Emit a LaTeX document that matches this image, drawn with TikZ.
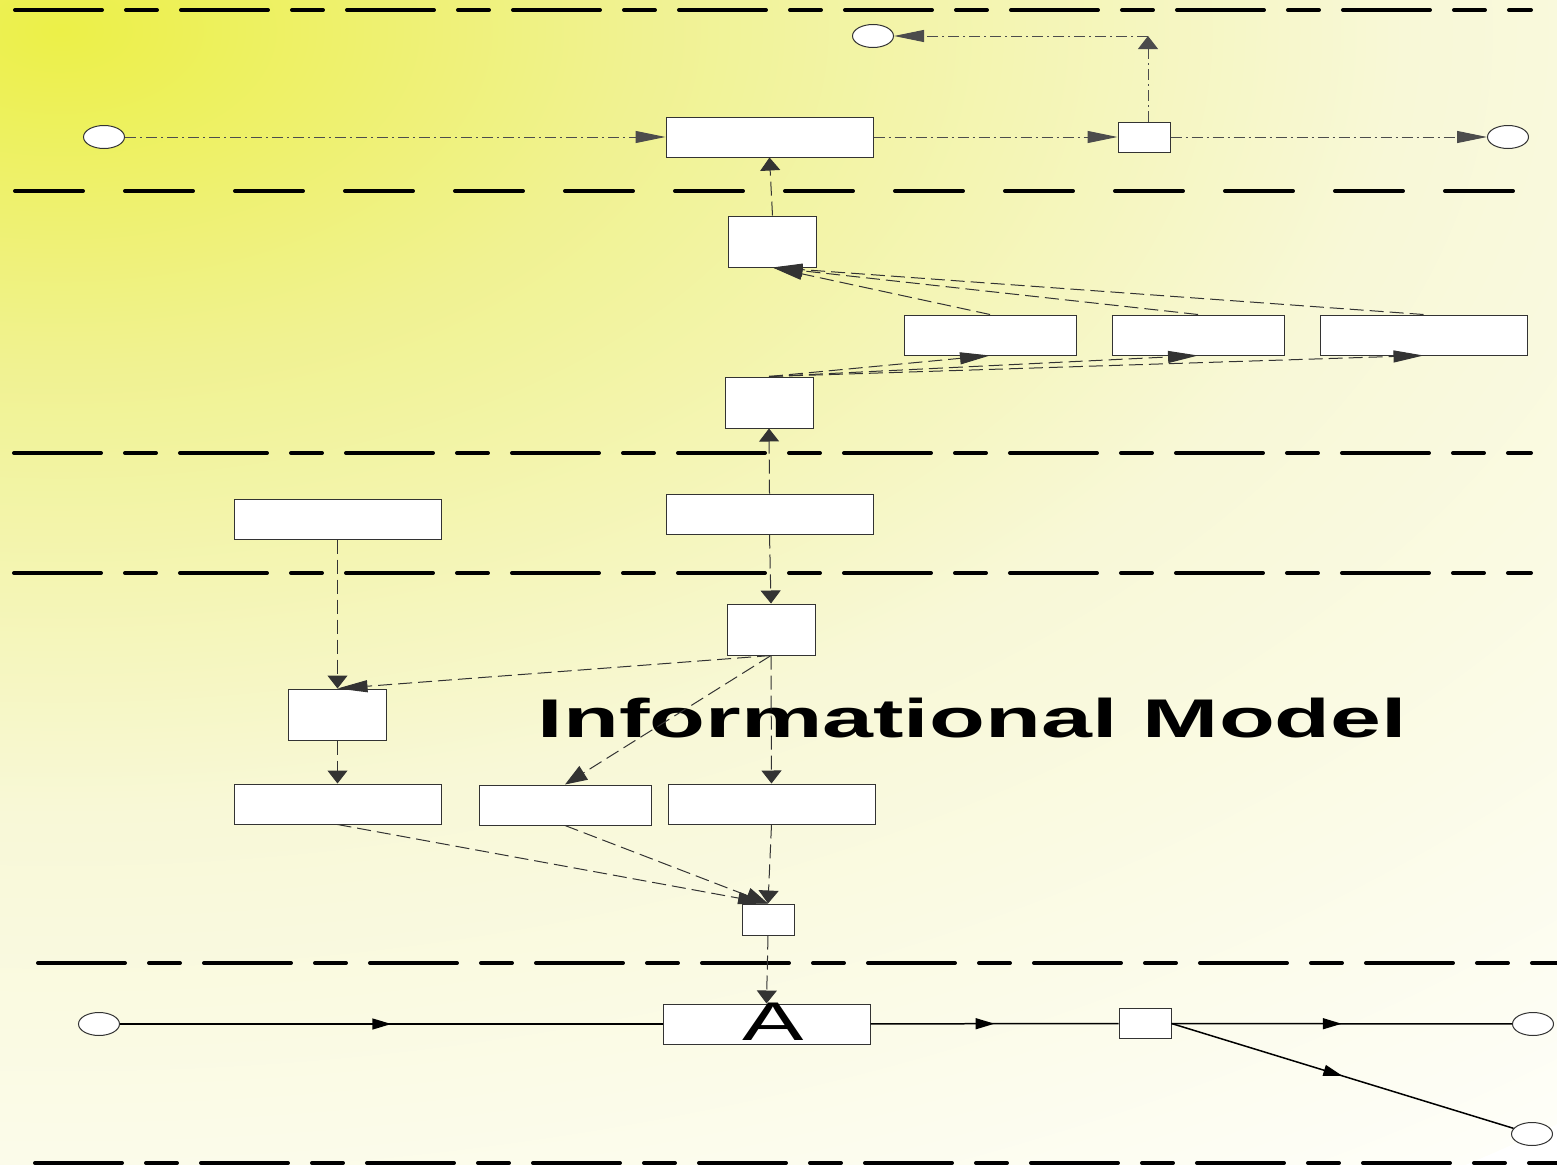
\documentclass[tikz,border=0pt]{standalone}
\usepackage{fontspec}
\setmainfont{Liberation Sans}
\usepackage{graphicx}
\usepackage{tikz}
\usetikzlibrary{arrows.meta, positioning, shapes.geometric, decorations.markings}
\definecolor{glowA}{RGB}{236,240,72}
\definecolor{glowB}{RGB}{240,242,145}
\definecolor{glowC}{RGB}{248,248,215}
\definecolor{glowD}{RGB}{254,254,248}
\pgfdeclareradialshading{laneglow}{\pgfpoint{0bp}{0bp}}{color(0bp)=(glowA); color(6bp)=(glowB); color(14bp)=(glowC); color(25bp)=(glowD); color(50bp)=(glowD)}
\newcommand{\bigfont}{\fontsize{15.5}{18}\selectfont}
\tikzset{
  lane/.style={line width=0.4mm, line cap=round, dash pattern=on 8.7mm off 2.4mm on 3.1mm off 2.4mm},
  lanesplit/.style={line width=0.4mm, line cap=round, dash pattern=on 6.8mm off 4.2mm},
  task/.style={draw=black!80, fill=white, line width=0.1mm, inner sep=0pt, minimum width=20.7mm, minimum height=4mm},
  gate/.style={task, minimum width=5.2mm, minimum height=3mm},
  unit/.style={task, minimum width=8.8mm, minimum height=5.1mm},
  event/.style={draw=black!80, fill=white, ellipse, line width=0.1mm, inner sep=0pt, minimum width=4.1mm, minimum height=2.3mm},
  msg/.style={draw=black!70, line width=0.1mm, dash pattern=on 1.1mm off 0.4mm on 0.2mm off 0.4mm},
  link/.style={draw=black!80, line width=0.1mm, dash pattern=on 1.4mm off 0.6mm},
  seq/.style={draw=black, line width=0.15mm, postaction={decorate},
    decoration={markings, mark=at position 0.5 with {\arrow{Triangle[length=1.9mm, width=1.1mm]}}}},
  harrow/.style={-{Triangle[length=3mm, width=1.2mm]}},
  varrow/.style={-{Triangle[length=1.3mm, width=2mm]}},
  darrow/.style={-{Triangle[length=2.2mm, width=1.6mm]}}
}

\begin{document}
\begin{tikzpicture}[x=0.1mm, y=-0.1mm]
    % background
    \useasboundingbox (0,0) rectangle (1557,1165);
    \begin{scope}
        \clip (0,0) rectangle (1557,1165);
        \shade[shading=laneglow] (60,30) ellipse [x radius=240mm, y radius=140mm];
    \end{scope}

    % lane separators
    \draw[lane] (15,10) -- (1531,10);
    \draw[lanesplit] (15,191) -- (1518,191);
    \draw[lane] (14,453) -- (1531,453);
    \draw[lane] (14,573) -- (1531,573);
    \draw[lane] (38,963) -- (1560,963);
    \draw[lane] (35,1163) -- (1560,1163);

    % top lane
    \node[event] (start) at (104,137) {};
    \node[task] (notify) at (769.5,137) {};
    \node[gate, right=24.4mm of notify] (split) {};
    \node[event] (done) at (1508,137) {};
    \node[event] (reply) at (873,36) {};
    \coordinate (turn) at (1148,36);

    % second lane
    \node[unit] (collect) at (772.5,241.5) {};
    \node[task, minimum width=17.2mm] (srcA) at (990,335) {};
    \node[task, minimum width=17.2mm, right=3.5mm of srcA] (srcB) {};
    \node[task, right=3.5mm of srcB] (srcC) {};
    \node[unit] (query) at (769,402.5) {};

    % third lane
    \node[task] (rule) at (337.5,519) {};
    \node[task] (request) at (769.5,514) {};

    % fourth lane
    \node[unit] (check) at (771,629.5) {};
    \node[unit, minimum width=9.8mm] (merge) at (337.5,714.5) {};
    \node[task] (outA) at (337.5,804) {};
    \node[task, minimum width=17.2mm] (outB) at (565,805) {};
    \node[task] (outC) at (771.5,804) {};
    \node[gate, minimum height=3.1mm] (join) at (768,919.5) {};
    \node[anchor=base, inner sep=0pt] (title) at (972.5,737)
        {\scalebox{1.68}[1]{\bigfont\bfseries Informational Model}};

    % bottom lane
    \node[task] (act) at (766.5,1024) {\hspace*{1.4mm}\raisebox{0pt}[3.2mm][0pt]{\scalebox{1.69}[1]{\bigfont A}}};
    \node[gate] (fork) at (1145,1023.5) {};
    \node[event] (in) at (99,1024) {};
    \node[event] (outTop) at (1533,1024) {};
    \node[event] (outLow) at (1532,1134) {};

    % messages
    \draw[msg, harrow] (start) -- (notify);
    \draw[msg, harrow] (notify) -- (split);
    \draw[msg, harrow] (split) -- (done);
    \draw[msg, varrow] (split.north -| turn) -- (turn);
    \draw[msg, harrow] (turn) -- (reply);

    % links
    \draw[link, varrow] (collect.north) -- (notify.south);
    \foreach \s in {srcA, srcB, srcC} {
        \draw[link, harrow] (\s.north) -- (collect.south);
        \draw[link, harrow] (query.north) -- (\s.south);
    }
    \draw[link, varrow] (request.north) -- (query.south);
    \draw[link, varrow] (request.south) -- (check.north);
    \draw[link, varrow] (rule.south) -- (merge.north);
    \draw[link, harrow] (check.south) -- (merge.north);
    \draw[link, darrow] (check.south) -- (outB.north);
    \draw[link, varrow] (check.south) -- (outC.north);
    \draw[link, varrow] (merge.south) -- (outA.north);
    \draw[link, harrow] (outA.south) -- (join.north);
    \draw[link, darrow] (outB.south) -- (join.north);
    \draw[link, varrow] (outC.south) -- (join.north);
    \draw[link, varrow] (join.south) -- (act.north);

    % sequence
    \draw[seq] (in) -- (act);
    \draw[seq] (act) -- (fork);
    \draw[seq] (fork) -- (outTop);
    \draw[seq] (fork.east) -- (outLow);
\end{tikzpicture}
\end{document}
